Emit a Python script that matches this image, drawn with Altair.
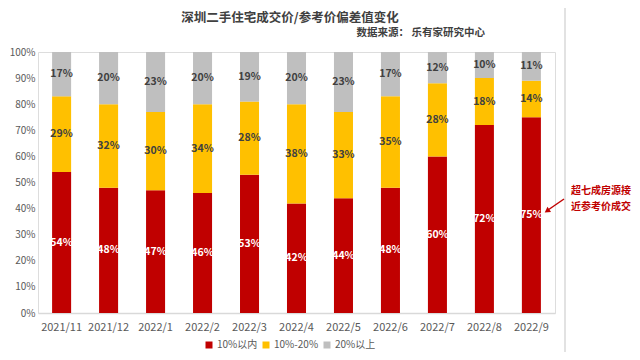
import altair as alt
import pandas as pd

months = ["2021/11", "2021/12", "2022/1", "2022/2", "2022/3", "2022/4",
          "2022/5", "2022/6", "2022/7", "2022/8", "2022/9"]
within10 = [54, 48, 47, 46, 53, 42, 44, 48, 60, 72, 75]
b10_20 = [29, 32, 30, 34, 28, 38, 33, 35, 28, 18, 14]
over20 = [17, 20, 23, 20, 19, 20, 23, 17, 12, 10, 11]
series = ["10%以内", "10%-20%", "20%以上"]
colors = ["#C00000", "#FFC000", "#BFBFBF"]
label_colors = ["#FFFFFF", "#404040", "#404040"]
y_ticks = [0, 10, 20, 30, 40, 50, 60, 70, 80, 90, 100]

rows = []
for i, m in enumerate(months):
    for k, vals in enumerate([within10, b10_20, over20]):
        rows.append({"month": m, "series": series[k], "value": vals[i],
                     "ord": k, "lc": label_colors[k]})
df = pd.DataFrame(rows)

W, H = 517, 261
FONT = "Noto Sans CJK SC"

xaxis = alt.Axis(title=None, labelAngle=0, ticks=False, domainColor="#D9D9D9",
                 domainWidth=1.5, labelColor="#595959", labelFontSize=11,
                 labelPadding=8, labelFont=FONT)
yaxis = alt.Axis(title=None, values=y_ticks, labelExpr="datum.value + '%'",
                 grid=False, domain=False, ticks=False, labelColor="#595959",
                 labelFontSize=10, labelPadding=3, labelFont=FONT, labelOverlap=False)
yscale = alt.Scale(domain=[0, 100])
xscale = alt.Scale(paddingInner=0.595, paddingOuter=0.3)

base = alt.Chart(df).transform_stack(
    stack="value", groupby=["month"], as_=["v0", "v1"], sort=[alt.SortField("ord")]
)

bars = base.mark_bar().encode(
    x=alt.X("month:N", sort=months, scale=xscale, axis=xaxis),
    y=alt.Y("v0:Q", scale=yscale, axis=yaxis),
    y2="v1:Q",
    color=alt.Color("series:N", sort=series, scale=alt.Scale(domain=series, range=colors),
                    legend=alt.Legend(title=None, orient="none", legendX=166, legendY=288,
                                      direction="horizontal", symbolType="square", symbolSize=49,
                                      symbolStrokeWidth=0,
                                      labelFontSize=10, labelColor="#595959", labelFont=FONT,
                                      columnPadding=3, labelOffset=3)),
)

labels = base.transform_calculate(mid="(datum.v0 + datum.v1) / 2",
                                   txt="datum.value + '%'").mark_text(
    fontSize=10.5, fontWeight="bold", font=FONT
).encode(
    x=alt.X("month:N", sort=months, scale=xscale, axis=xaxis),
    y=alt.Y("mid:Q", scale=yscale, axis=yaxis),
    text="txt:N",
    color=alt.Color("lc:N", scale=None),
)

title = alt.Chart(pd.DataFrame({"t": ["深圳二手住宅成交价/参考价偏差值变化"]})).mark_text(
    fontSize=12.5, fontWeight="bold", color="#404040", font=FONT, align="center"
).encode(x=alt.value(252), y=alt.value(-34), text="t:N")

sub = alt.Chart(pd.DataFrame({"t": ["数据来源： 乐有家研究中心"]})).mark_text(
    fontSize=10.5, fontWeight="bold", color="#404040", font=FONT, align="right"
).encode(x=alt.value(447), y=alt.value(-19), text="t:N")

note = alt.Chart(pd.DataFrame({"t": ["超七成房源接", "近参考价成交"], "yy": [139, 155]})).mark_text(
    fontSize=10, fontWeight="bold", color="#C00000", font=FONT, align="left"
).encode(x=alt.value(533), y=alt.Y("yy:Q", scale=None), text="t:N")

arrow = alt.Chart(pd.DataFrame({"a": [0]})).mark_rule(color="#C00000", strokeWidth=1.5).encode(
    x=alt.value(526), x2=alt.value(510), y=alt.value(147), y2=alt.value(158)
)
head = alt.Chart(pd.DataFrame({"a": [0]})).mark_point(
    shape="triangle-up", filled=True, color="#C00000", size=40, angle=236, opacity=1
).encode(x=alt.value(509), y=alt.value(159))

frame = alt.Chart(pd.DataFrame({"a": [0]})).mark_rule(color="#D9D9D9", strokeWidth=1.5).encode(
    x=alt.value(527), y=alt.value(-44), y2=alt.value(300)
)

chart = alt.layer(frame, bars, labels, title, sub, note, arrow, head).properties(
    width=W, height=H,
    autosize=alt.AutoSizeParams(type="none"),
    padding={"left": 30, "top": 44, "right": 77, "bottom": 39},
).configure_view(stroke=None).configure(font=FONT)

chart.save("out.html", embed_options={"renderer": "svg", "actions": False})
